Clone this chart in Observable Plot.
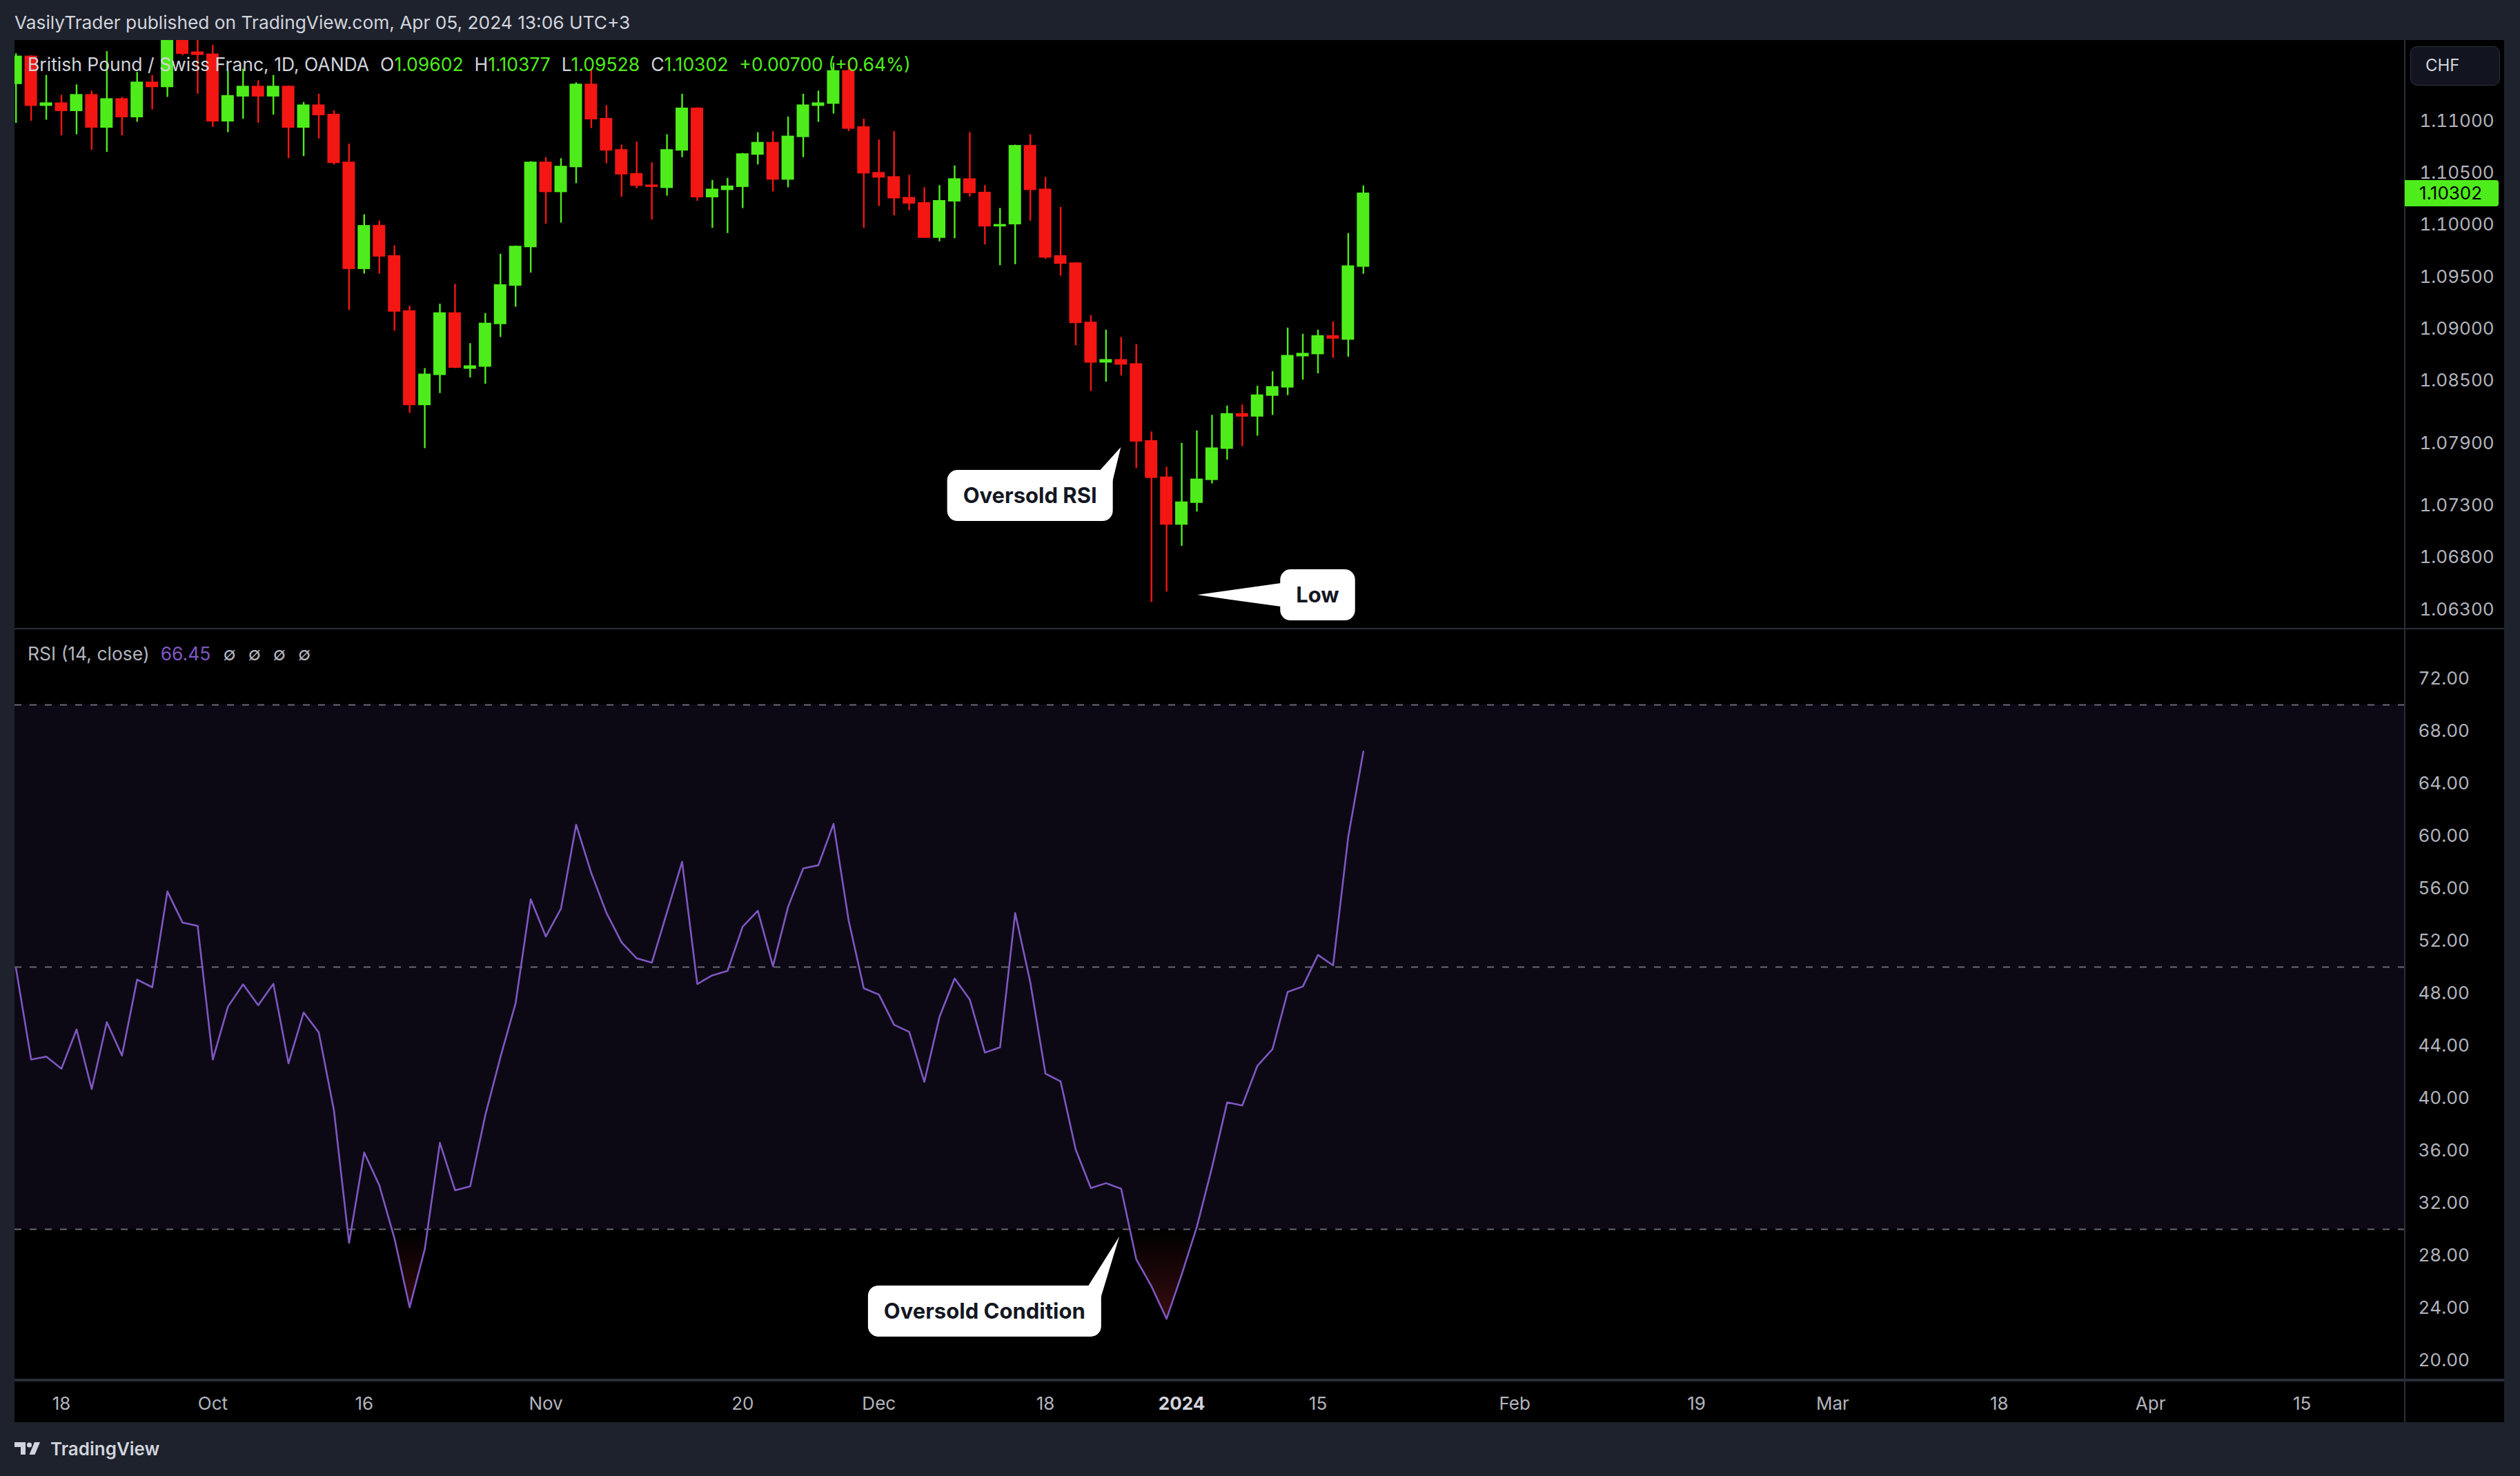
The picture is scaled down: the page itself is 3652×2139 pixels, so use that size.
<!DOCTYPE html>
<html><head><meta charset="utf-8">
<script src="https://cdn.jsdelivr.net/npm/d3@7"></script>
<script src="https://cdn.jsdelivr.net/npm/@observablehq/plot@0.6"></script>
<style>
html,body{margin:0;padding:0;background:#1e222d;width:3652px;height:2139px;overflow:hidden;font-family:Inter,"Noto Sans",sans-serif;}
#title{position:absolute;left:21px;top:14px;height:38px;line-height:38px;font-size:26.3px;color:#d1d4dc;white-space:nowrap;}
#chart{position:absolute;left:21px;top:58px;width:3608px;height:2003px;background:#000;overflow:hidden;}
.pane{position:absolute;left:0;width:3608px;}
#pricePane{top:0;height:852px;}
#rsiPane{top:854px;height:1086px;}
#timePane{top:1944px;height:59px;}
#sep1{position:absolute;left:0;top:852px;width:3608px;height:2px;background:#2a2e39;}
#sep2{position:absolute;left:0;top:1940px;width:3608px;height:4px;background:#2a2e39;}
#vsep{position:absolute;left:3463px;top:0;width:2px;height:2003px;background:#2a2e39;}
.legend{position:absolute;left:19px;font-size:26.5px;color:#d1d4dc;white-space:nowrap;line-height:32px;}
.legend .k{margin-left:16px;}
.legend .g{color:#4fec1b;}
.legend .p{color:#7e57c2;margin-left:16px;}
.legend .n{margin-left:18px;color:#b2b5be;}
#lastPrice{position:absolute;left:3464px;width:136px;height:38px;line-height:38px;color:#000;font-size:26px;border-radius:0 4px 4px 0;box-sizing:border-box;padding-left:21px;}
#chf{position:absolute;left:3472px;top:9px;width:130px;height:57px;box-sizing:border-box;border:1.5px solid #2e3240;border-radius:10px;background:#121420;color:#d1d4dc;font-size:24px;line-height:54px;text-align:left;padding-left:21px;}
#footer{position:absolute;left:21px;top:2084px;height:30px;display:flex;align-items:center;color:#d1d4dc;font-size:26px;font-weight:600;}
#footer svg{margin-right:12px;}
#overlay{position:absolute;left:0;top:0;pointer-events:none;}
</style></head>
<body>
<div id="title">VasilyTrader published on TradingView.com, Apr 05, 2024 13:06 UTC+3</div>
<div id="chart">
  <div id="pricePane" class="pane"></div>
  <div id="sep1"></div>
  <div id="rsiPane" class="pane"></div>
  <div id="sep2"></div>
  <div id="timePane" class="pane"></div>
  <div id="vsep"></div>
</div>
<div id="footer"><svg width="40" height="24" viewBox="0 0 40 24"><path d="M0 3h16v18h-7V10H0z" fill="#d1d4dc"/><circle cx="21.5" cy="7" r="3.6" fill="#d1d4dc"/><path d="M29 3h8l-7.5 18h-8z" fill="#d1d4dc"/></svg><span>TradingView</span></div>
<script>
// ---------- data ----------
const barIndex = d3.range(-3, 87); // trading-day index, 0 = Sep 18 2023
const opens = [
 1.1136,1.1162,1.1115,1.1117,1.1110,1.1125,1.1094,1.1121,1.1104,1.1137,
 1.1133,1.1188,1.1166,1.1164,1.1100,1.1124,1.1133,1.1124,1.1133,1.1094,
 1.1115,1.1106,1.1060,1.0958,1.0999,1.0970,1.0917,1.0827,1.0856,1.0915,
 1.0862,1.0864,1.0905,1.0942,1.0979,1.1060,1.1032,1.1056,1.1135,1.1102,
 1.1072,1.1049,1.1038,1.1036,1.1072,1.1112,1.1027,1.1034,1.1037,1.1068,
 1.1079,1.1044,1.1085,1.1115,1.1117,1.1148,1.1094,1.1050,1.1046,1.1026,
 1.1021,1.0988,1.1023,1.1044,1.1031,1.0999,1.1001,1.1076,1.1034,1.0970,
 1.0963,1.0906,1.0868,1.0870,1.0866,1.0792,1.0757,1.0712,1.0733,1.0755,
 1.0785,1.0818,1.0816,1.0836,1.0844,1.0874,1.0876,1.0893,1.0890,1.09602];
const highs = [
 1.1165,1.1163,1.1144,1.1125,1.1135,1.1129,1.1167,1.1123,1.1147,1.1144,
 1.1200,1.1195,1.1190,1.1173,1.1148,1.1150,1.1139,1.1144,1.1134,1.1118,
 1.1126,1.1110,1.1078,1.1010,1.1004,1.0980,1.0922,1.0862,1.0924,1.0943,
 1.0886,1.0915,1.0972,1.0980,1.1061,1.1065,1.1064,1.1137,1.1150,1.1115,
 1.1077,1.1080,1.1060,1.1087,1.1126,1.1113,1.1043,1.1045,1.1069,1.1089,
 1.1090,1.1104,1.1126,1.1129,1.1156,1.1158,1.1102,1.1082,1.1090,1.1048,
 1.1036,1.1038,1.1057,1.1089,1.1038,1.1016,1.1077,1.1087,1.1046,1.1017,
 1.0964,1.0913,1.0899,1.0892,1.0885,1.0801,1.0767,1.0790,1.0802,1.0817,
 1.0826,1.0827,1.0845,1.0859,1.0901,1.0895,1.0899,1.0907,1.0992,1.10377];
const lows = [
 1.1098,1.1100,1.1101,1.1086,1.1087,1.1072,1.1070,1.1086,1.1099,1.1111,
 1.1123,1.1163,1.1126,1.1094,1.1089,1.1102,1.1098,1.1106,1.1064,1.1066,
 1.1083,1.1058,1.0918,1.0953,1.0953,1.0898,1.0819,1.0785,1.0838,1.0862,
 1.0853,1.0847,1.0892,1.0921,1.0954,1.1001,1.1002,1.1040,1.1093,1.1059,
 1.1027,1.1035,1.1005,1.1028,1.1065,1.1023,1.0997,1.0992,1.1016,1.1058,
 1.1032,1.1036,1.1065,1.1099,1.1107,1.1090,1.0997,1.1018,1.1009,1.1014,
 1.0988,1.0984,1.0987,1.1027,1.0981,1.0961,1.0962,1.1004,1.0967,1.0951,
 1.0884,1.0840,1.0849,1.0855,1.0766,1.0637,1.0647,1.0691,1.0724,1.0751,
 1.0774,1.0787,1.0797,1.0817,1.0836,1.0851,1.0857,1.0872,1.0873,1.09528];
const closes = [
 1.1162,1.1115,1.1117,1.1110,1.1125,1.1094,1.1121,1.1104,1.1137,1.1133,
 1.1190,1.1165,1.1164,1.1100,1.1124,1.1133,1.1124,1.1133,1.1094,1.1115,
 1.1106,1.1060,1.0958,1.0999,1.0970,1.0917,1.0827,1.0856,1.0915,1.0863,
 1.0864,1.0905,1.0942,1.0979,1.1060,1.1032,1.1056,1.1135,1.1102,1.1072,
 1.1049,1.1038,1.1037,1.1072,1.1112,1.1027,1.1034,1.1037,1.1068,1.1079,
 1.1044,1.1085,1.1115,1.1117,1.1148,1.1093,1.1050,1.1046,1.1026,1.1021,
 1.0988,1.1023,1.1044,1.1031,1.0999,1.1000,1.1076,1.1034,1.0969,1.0963,
 1.0906,1.0868,1.0870,1.0866,1.0792,1.0757,1.0712,1.0733,1.0755,1.0785,
 1.0818,1.0816,1.0836,1.0844,1.0874,1.0876,1.0893,1.0891,1.09602,1.10302];
const rsiValues = [
 49.9,42.95,43.17,42.25,45.24,40.7,45.8,43.25,49.05,48.46,
 55.77,53.4,53.15,42.95,46.98,48.68,47.09,48.72,42.66,46.54,
 45.02,39.08,28.96,35.86,33.35,29.3,24.05,28.48,36.6,32.98,
 33.28,38.71,43.14,47.24,55.17,52.33,54.47,60.86,57.17,54.14,
 51.89,50.67,50.34,54.18,58.03,48.71,49.37,49.71,53.09,54.3,
 50.07,54.6,57.53,57.77,60.92,53.55,48.38,47.9,45.6,45.06,
 41.25,46.2,49.13,47.53,43.48,43.88,54.12,48.83,41.88,41.28,
 36.08,33.15,33.52,33.09,27.71,25.66,23.18,26.56,30.19,34.72,
 39.68,39.45,42.47,43.75,48.11,48.52,50.93,50.13,59.93,66.45];
const priceTicks = [1.063,1.068,1.073,1.079,1.085,1.090,1.095,1.100,1.105,1.110];
const rsiTicks = [20,24,28,32,36,40,44,48,52,56,60,64,68,72];
const rsiLevels = [70,50,30];
const timeTickIndex = [0,10,20,32,45,54,65,74,83,96,108,117,128,138,148];
const timeTickLabel = ["18","Oct","16","Nov","20","Dec","18","2024","15","Feb","19","Mar","18","Apr","15"];
const calloutText = ["Oversold RSI","Low","Oversold Condition"];
const calloutPane = ["price","price","rsi"];
const calloutBox = [[64.0,1.07394],[83.0,1.06438],[61.0,23.74]];
const calloutTip = [[70.0,1.07859],[75.05,1.06438],[69.9,29.42]];
const calloutSide = ["topright","left","topright"];

const xDomain = [-3.077, 154.81];
const priceDomain = [1.0612, 1.11777];
const rsiDomain = [18.58, 75.737];
const GREEN = "#4fec1b", RED = "#f31613", PURPLE = "#7e57c2";

// ---------- build ----------
const candles = barIndex.map((i,k)=>({i, open:opens[k], high:highs[k], low:lows[k], close:closes[k]}));
const rsiData = barIndex.map((i,k)=>({i, v:rsiValues[k]}));
const dirColor = d => d.close >= d.open ? GREEN : RED;
const W = 3608, AXIS_W = 144;
const common = {width:W, marginLeft:0, marginRight:AXIS_W, marginTop:0, marginBottom:0,
  style:{background:"transparent", color:"#b2b5be", fontFamily:"Inter, sans-serif", fontSize:"26px", overflow:"visible"}};

const pricePlot = Plot.plot({...common, height:852,
  x:{domain:xDomain, axis:null}, y:{domain:priceDomain, axis:null}, color:{type:"identity"},
  marks:[
    Plot.ruleX(candles,{x:"i", y1:"low", y2:"high", stroke:dirColor, strokeWidth:2.4, clip:true}),
    Plot.rect(candles,{x1:d=>d.i-0.41, x2:d=>d.i+0.41, y1:"open", y2:"close", fill:dirColor, insetTop:-1, insetBottom:-1, clip:true}),
    Plot.axisY(priceTicks,{anchor:"right", tickSize:0, tickPadding:21, tickFormat:d3.format(".5f"), label:null, fill:"#b2b5be"})
  ]});
document.getElementById("pricePane").appendChild(pricePlot);

const rsiPlot = Plot.plot({...common, height:1086,
  x:{domain:xDomain, axis:null}, y:{domain:rsiDomain, axis:null},
  marks:[
    Plot.rect([{a:rsiLevels[0], b:rsiLevels[2]}],{x1:()=>xDomain[0], x2:()=>xDomain[1], y1:"a", y2:"b", fill:PURPLE, fillOpacity:0.1}),
    Plot.areaY(rsiData,{x:"i", y1:()=>rsiLevels[2], y2:"v", fill:"url(#osGrad)", clip:true}),
    Plot.ruleY(rsiLevels,{stroke:"#787b86", strokeWidth:2, strokeDasharray:"10,12", strokeOpacity:0.85}),
    Plot.line(rsiData,{x:"i", y:"v", stroke:PURPLE, strokeWidth:2.6, clip:true}),
    Plot.axisY(rsiTicks,{anchor:"right", tickSize:0, tickPadding:19, tickFormat:d3.format(".2f"), label:null, fill:"#b2b5be"})
  ]});
document.getElementById("rsiPane").appendChild(rsiPlot);
{
  const ry = rsiPlot.scale("y");
  d3.select(rsiPlot).insert("defs",":first-child").html(
    `<linearGradient id="osGrad" gradientUnits="userSpaceOnUse" x1="0" x2="0" y1="${ry.apply(30)}" y2="${ry.apply(0)}">
       <stop offset="0" stop-color="#f23645" stop-opacity="0"/>
       <stop offset="1" stop-color="#f23645" stop-opacity="1"/>
     </linearGradient>`);
}

const timeTicks = timeTickIndex.map((i,k)=>({i, label:timeTickLabel[k]}));
const timePlot = Plot.plot({...common, height:59,
  x:{domain:xDomain, axis:null},
  marks:[
    Plot.text(timeTicks.filter(d=>d.label!=="2024"),{x:"i", text:"label", frameAnchor:"middle", dy:3, fill:"#b2b5be", fontSize:26}),
    Plot.text(timeTicks.filter(d=>d.label==="2024"),{x:"i", text:"label", frameAnchor:"middle", dy:3, fill:"#d1d4dc", fontSize:26, fontWeight:700})
  ]});
document.getElementById("timePane").appendChild(timePlot);

// ---------- legends & labels ----------
const chart = document.getElementById("chart");
const f5 = d3.format(".5f");
const last = candles[candles.length-1], prev = candles[candles.length-2];
const chg = last.close - prev.close;
const lg = document.createElement("div");
lg.className = "legend"; lg.style.top = "19px";
lg.innerHTML = `<span>British Pound / Swiss Franc, 1D, OANDA</span>`+
  `<span class="k">O</span><span class="g">${f5(last.open)}</span>`+
  `<span class="k">H</span><span class="g">${f5(last.high)}</span>`+
  `<span class="k">L</span><span class="g">${f5(last.low)}</span>`+
  `<span class="k">C</span><span class="g">${f5(last.close)}</span>`+
  `<span class="k g">${chg>=0?"+":""}${f5(chg)} (${chg>=0?"+":""}${d3.format(".2f")(chg/prev.close*100)}%)</span>`;
chart.appendChild(lg);

const rl = document.createElement("div");
rl.className = "legend"; rl.style.top = "873px";
rl.innerHTML = `<span style="color:#b2b5be">RSI (14, close)</span><span class="p">${d3.format(".2f")(rsiValues[rsiValues.length-1])}</span>`+
  `<span class="n">∅</span><span class="n">∅</span><span class="n">∅</span><span class="n">∅</span>`;
chart.appendChild(rl);

const lp = document.createElement("div");
lp.id = "lastPrice";
lp.style.top = (pricePlot.scale("y").apply(last.close) - 19) + "px";
lp.style.background = last.close >= last.open ? GREEN : RED;
lp.textContent = f5(last.close);
chart.appendChild(lp);

const chf = document.createElement("div");
chf.id = "chf"; chf.textContent = "CHF";
chart.appendChild(chf);

// ---------- callouts ----------
const xs = pricePlot.scale("x"), ps = pricePlot.scale("y"), rs = rsiPlot.scale("y");
const toPx = (pane, x, y) => pane === "price" ? [xs.apply(x), ps.apply(y)] : [xs.apply(x), 854 + rs.apply(y)];
const ov = d3.select(chart).append("svg").attr("id","overlay").attr("width",W).attr("height",2003);
calloutText.forEach((t,k)=>{
  const [bx,by] = toPx(calloutPane[k], calloutBox[k][0], calloutBox[k][1]);
  const [tx,ty] = toPx(calloutPane[k], calloutTip[k][0], calloutTip[k][1]);
  const g = ov.append("g");
  const txt = g.append("text").attr("x",bx).attr("y",by).attr("text-anchor","middle").attr("dy","0.36em")
    .attr("font-family","Inter, sans-serif").attr("font-size",31).attr("font-weight",700).attr("fill","#131722").text(t);
  const w = txt.node().getComputedTextLength() + 46, h = 74;
  const left = bx - w/2, top = by - h/2, right = bx + w/2;
  const tri = calloutSide[k] === "topright"
    ? [[right-19, top+1],[right-1, top+19],[tx,ty]]
    : [[left+1, by-17],[left+1, by+17],[tx,ty]];
  g.insert("rect","text").attr("x",left).attr("y",top).attr("width",w).attr("height",h).attr("rx",15).attr("fill","#fff");
  g.insert("polygon","text").attr("points",tri.map(p=>p.join(",")).join(" ")).attr("fill","#fff");
});
</script>
</body></html>
